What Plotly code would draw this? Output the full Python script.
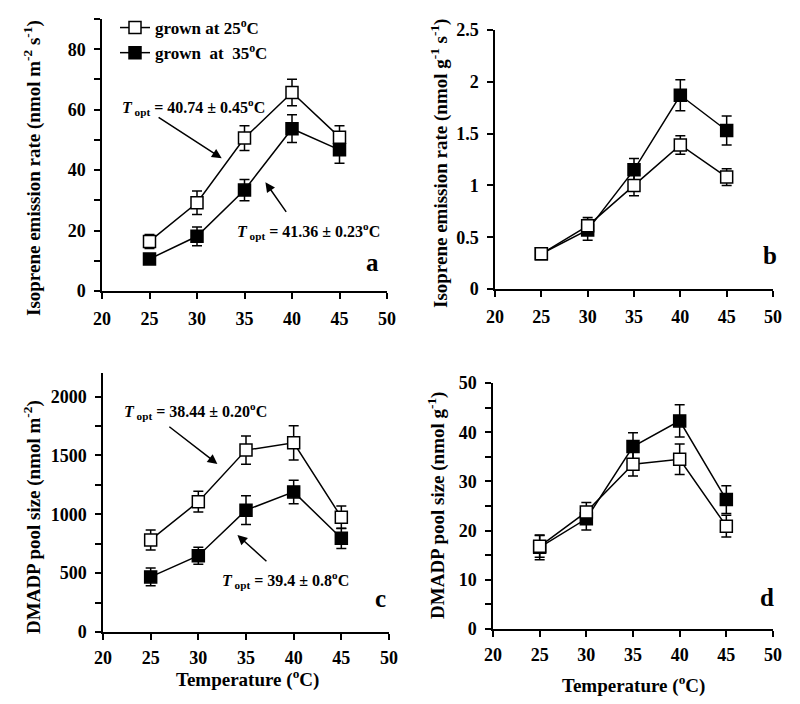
import plotly.graph_objects as go

# growth temperatures / measurement temperatures
temps = [25, 30, 35, 40, 45]

# panel a: isoprene emission per area (nmol m-2 s-1)
a_25 = [16.4, 29.2, 50.6, 65.7, 50.9]
a_25_err = [2.3, 3.9, 4.1, 4.4, 3.8]
a_35 = [10.6, 18.1, 33.4, 53.7, 46.7]
a_35_err = [1.6, 3.1, 3.5, 4.6, 4.4]

# panel b: isoprene emission per mass (nmol g-1 s-1)
b_25 = [0.34, 0.61, 1.00, 1.39, 1.08]
b_25_err = [0.04, 0.08, 0.10, 0.09, 0.08]
b_35 = [0.34, 0.57, 1.15, 1.87, 1.53]
b_35_err = [0.05, 0.10, 0.11, 0.15, 0.14]

# panel c: DMADP pool per area (nmol m-2)
c_25 = [782, 1107, 1545, 1607, 975]
c_25_err = [85, 88, 120, 145, 96]
c_35 = [468, 648, 1035, 1190, 796]
c_35_err = [75, 72, 122, 100, 86]

# panel d: DMADP pool per mass (nmol g-1)
d_25 = [16.8, 23.8, 33.5, 34.5, 20.9]
d_25_err = [2.2, 1.9, 2.4, 3.1, 2.2]
d_35 = [16.6, 22.4, 37.1, 42.3, 26.3]
d_35_err = [2.5, 2.3, 2.8, 3.3, 2.8]

series_names = ["grown at 25<sup>o</sup>C", "grown  at  35<sup>o</sup>C"]

FONT = "Liberation Serif, Times New Roman, serif"
# page body has an 8px margin, so the figure is a bit smaller than the window
OFF = 8
W, H = 800 - 2 * OFF, 704 - 2 * OFF


def px(x):
    return (x - OFF) / W


def py_(y):
    return (H - (y - OFF)) / H


def add_pair(fig, xa, ya, v25, e25, v35, e35, legend):
    # filled first so that open squares sit on top
    for vals, errs, fill, name, rank in [(v35, e35, "black", series_names[1], 2),
                                         (v25, e25, "white", series_names[0], 1)]:
        fig.add_trace(go.Scatter(
            x=temps, y=vals, mode="lines+markers", name=name,
            xaxis=xa, yaxis=ya, showlegend=legend, legendrank=rank,
            line=dict(color="black", width=1.5),
            marker=dict(symbol="square", size=12, color=fill,
                        line=dict(color="black", width=1.5)),
            error_y=dict(type="data", array=errs, color="black",
                         thickness=1.5, width=5),
        ))


fig = go.Figure()
add_pair(fig, "x", "y", a_25, a_25_err, a_35, a_35_err, True)
add_pair(fig, "x2", "y2", b_25, b_25_err, b_35, b_35_err, False)
add_pair(fig, "x3", "y3", c_25, c_25_err, c_35, c_35_err, False)
add_pair(fig, "x4", "y4", d_25, d_25_err, d_35, d_35_err, False)

tickfont = dict(family=FONT, size=18, color="black", weight="bold")


def xax(dom, anchor, standoff=5):
    return dict(domain=dom, anchor=anchor, range=[20, 50], dtick=5, tick0=20,
                showline=True, linecolor="black", linewidth=1.5,
                ticks="outside", ticklen=6, tickwidth=1.5, tickcolor="black",
                showgrid=False, zeroline=False, tickfont=tickfont,
                ticklabelstandoff=standoff, automargin=False)


def yax(dom, anchor, rng, dt, minor=None):
    d = dict(domain=dom, anchor=anchor, range=rng, dtick=dt, tick0=0,
             showline=True, linecolor="black", linewidth=1.5,
             ticks="outside", ticklen=6, tickwidth=1.5, tickcolor="black",
             showgrid=False, zeroline=False, tickfont=tickfont,
             ticklabelstandoff=5, automargin=False)
    if minor:
        d["minor"] = dict(dtick=minor, ticks="outside", ticklen=6,
                          tickwidth=1.5, tickcolor="black", showgrid=False)
    return d


fig.update_layout(
    width=W, height=H,
    margin=dict(l=0, r=0, t=0, b=0),
    paper_bgcolor="white", plot_bgcolor="white",
    font=dict(family=FONT, size=17, color="black", weight="bold"),
    xaxis=xax([px(102), px(387)], "y"),
    yaxis=yax([py_(291), py_(19)], "x", [0, 90], 20, 10),
    xaxis2=xax([px(495), px(773)], "y2"),
    yaxis2=yax([py_(289), py_(30)], "x2", [0, 2.5], 0.5),
    xaxis3=xax([px(103), px(389)], "y3", 3),
    yaxis3=yax([py_(632), py_(373)], "x3", [0, 2200], 500, 250),
    xaxis4=xax([px(493), px(773)], "y4", 3),
    yaxis4=yax([py_(629), py_(383)], "x4", [0, 50], 10, 5),
    legend=dict(x=px(115), y=py_(10), xanchor="left", yanchor="top",
                bgcolor="rgba(0,0,0,0)", itemwidth=30,
                font=dict(family=FONT, size=17, color="black", weight="bold")),
)

ann = []
tfont = dict(family=FONT, size=17, color="black", weight="bold")


def note(x, y, txt, size, angle=0):
    return dict(x=px(x), y=py_(y), xref="paper", yref="paper", text=txt,
                textangle=angle, showarrow=False, xanchor="center",
                yanchor="middle", font=dict(tfont, size=size))


# y axis titles
for x, y, txt in [
    (33, 168, "Isoprene emission rate (nmol m<sup>-2</sup> s<sup>-1</sup>)"),
    (440, 163, "Isoprene emission rate (nmol g<sup>-1</sup> s<sup>-1</sup>)"),
    (32, 517, "DMADP pool size (nmol m<sup>-2</sup>)"),
    (437, 506, "DMADP pool size (nmol g<sup>-1</sup>)"),
]:
    ann.append(note(x, y, txt, 19, -90))

# x axis titles
for x, y in [(247, 678), (633, 684)]:
    ann.append(note(x, y, "Temperature (<sup>o</sup>C)", 19))

# panel letters
for x, y, t in [(372, 262, "a"), (770, 256, "b"), (380, 598, "c"), (767, 597, "d")]:
    ann.append(note(x, y, t, 25))

# Topt labels
for x, y, t in [
    (193, 107, "<i>T</i><sub> opt</sub> = 40.74 ± 0.45<sup>o</sup>C"),
    (308, 231, "<i>T</i><sub> opt</sub> = 41.36 ± 0.23<sup>o</sup>C"),
    (195, 411, "<i>T</i><sub> opt</sub> = 38.44 ± 0.20<sup>o</sup>C"),
    (285, 580, "<i>T</i><sub> opt</sub> = 39.4 ± 0.8<sup>o</sup>C"),
]:
    ann.append(note(x, y, t, 16))

# arrows (head x, head y, tail x, tail y) in data coordinates
for xr, yr, hx, hy, tx, ty in [
    ("x", "y", 32.6, 43.9, 25.8, 57.8),
    ("x", "y", 37.2, 36.0, 39.5, 25.7),
    ("x3", "y3", 32.0, 1427, 26.8, 1753),
    ("x3", "y3", 34.1, 824, 37.3, 589),
]:
    ann.append(dict(x=hx, y=hy, xref=xr, yref=yr, ax=tx, ay=ty,
                    axref=xr, ayref=yr, text="", showarrow=True,
                    arrowhead=2, arrowsize=1.3, arrowwidth=1.5,
                    arrowcolor="black", standoff=0, startstandoff=0))

fig.update_layout(annotations=ann)

fig.write_html("out.html")
